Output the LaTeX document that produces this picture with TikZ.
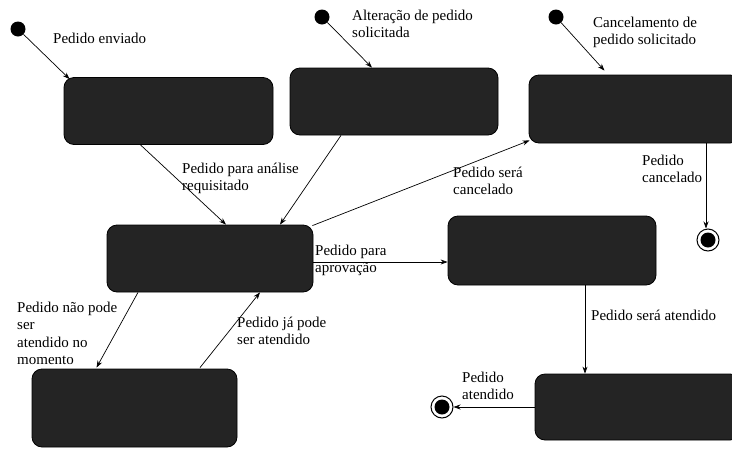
\documentclass[tikz,border=0pt]{standalone}
\usepackage{fontspec}
\setmainfont{Liberation Serif}
\usetikzlibrary{arrows.meta,calc}
\begin{document}
\begin{tikzpicture}[x=1pt,y=-1pt,
  state/.style={draw=black,fill=black!86,rounded corners=10pt,line width=0.8pt,inner sep=0},
  initst/.style={circle,fill=black,inner sep=0,minimum size=15pt},
  finalst/.style={circle,draw=black,line width=1pt,inner sep=0,minimum size=22pt,
    path picture={\fill[black] (path picture bounding box.center) circle (7.5pt);}},
  lbl/.style={font=\fontsize{15}{17.5}\selectfont,align=left,anchor=north west,inner sep=0},
  arr/.style={-{Stealth[length=7pt,width=5pt]},line width=0.7pt},
]
\useasboundingbox[fill=white] (0,0) rectangle (732,448);

% states
\node[state,minimum width=209pt,minimum height=67pt] (A) at (168.5,111) {};
\node[state,minimum width=208pt,minimum height=67pt] (B) at (394,101.5) {};
\node[state,minimum width=211pt,minimum height=68pt] (C) at (634.5,109) {};
\node[state,minimum width=206pt,minimum height=67pt] (D) at (210,258.5) {};
\node[state,minimum width=208pt,minimum height=69pt] (E) at (552,250.5) {};
\node[state,minimum width=205pt,minimum height=78pt] (F) at (134.5,408) {};
\node[state,minimum width=205pt,minimum height=66pt] (G) at (637.5,407) {};

% initial and final states
\node[initst] (i1) at (18,29) {};
\node[initst] (i2) at (322,17) {};
\node[initst] (i3) at (556,17) {};
\node[finalst] (f1) at (708,240) {};
\node[finalst] (f2) at (442,407) {};

% labels
\node[lbl] (l1) at (53,32.5) {Pedido enviado};
\node[lbl] (l2) at (352,9.5) {Alteração de pedido\\solicitada};
\node[lbl] (l3) at (593,16.5) {Cancelamento de\\pedido solicitado};
\node[lbl] (l4) at (182,162.5) {Pedido para análise\\requisitado};
\node[lbl] (l5) at (453,166.5) {Pedido será\\cancelado};
\node[lbl] (l6) at (642,154.5) {Pedido\\cancelado};
\node[lbl] (l7) at (315,244.5) {Pedido para\\aprovação};
\node[lbl] (l8) at (17,301.5) {Pedido não pode\\ser\\atendido no\\momento};
\node[lbl] (l9) at (237,316.5) {Pedido já pode\\ser atendido};
\node[lbl] (l10) at (591,309.5) {Pedido será atendido};
\node[lbl] (l11) at (462,371.5) {Pedido\\atendido};

% transitions
\draw[arr] (i1) -- ([shift={(6,2)}]A.north west);
\draw[arr] (i2) -- ([shift={(-22,0)}]B.north);
\draw[arr] (i3) -- ([shift={(-30,-4)}]C.north);
\draw[arr] ([shift={(-28,0)}]A.south) -- ([shift={(16,0)}]D.north);
\draw[arr] ([shift={(-53,0)}]B.south) -- ([shift={(70,0)}]D.north);
\draw[arr] ([shift={(-1,1)}]D.north east) -- ([shift={(1,-3)}]C.south west);
\draw[arr] ([shift={(0,3.5)}]D.east) -- ([shift={(0,3.5)}]D.east -| E.west);
\draw[arr] ([shift={(-2,0)}]f1.north |- C.south) -- ([shift={(-2,0)}]f1.north);
\draw[arr] ([shift={(-72,0)}]D.south) -- ([shift={(-38,-1)}]F.north);
\draw[arr] ([shift={(65.5,-1)}]F.north) -- ([shift={(50,0)}]D.south);
\draw[arr] ([shift={(33,0)}]E.south) -- ([shift={(33,0)}]E.south |- G.north);
\draw[arr] (G.west) -- (f2.east);
\end{tikzpicture}
\end{document}
